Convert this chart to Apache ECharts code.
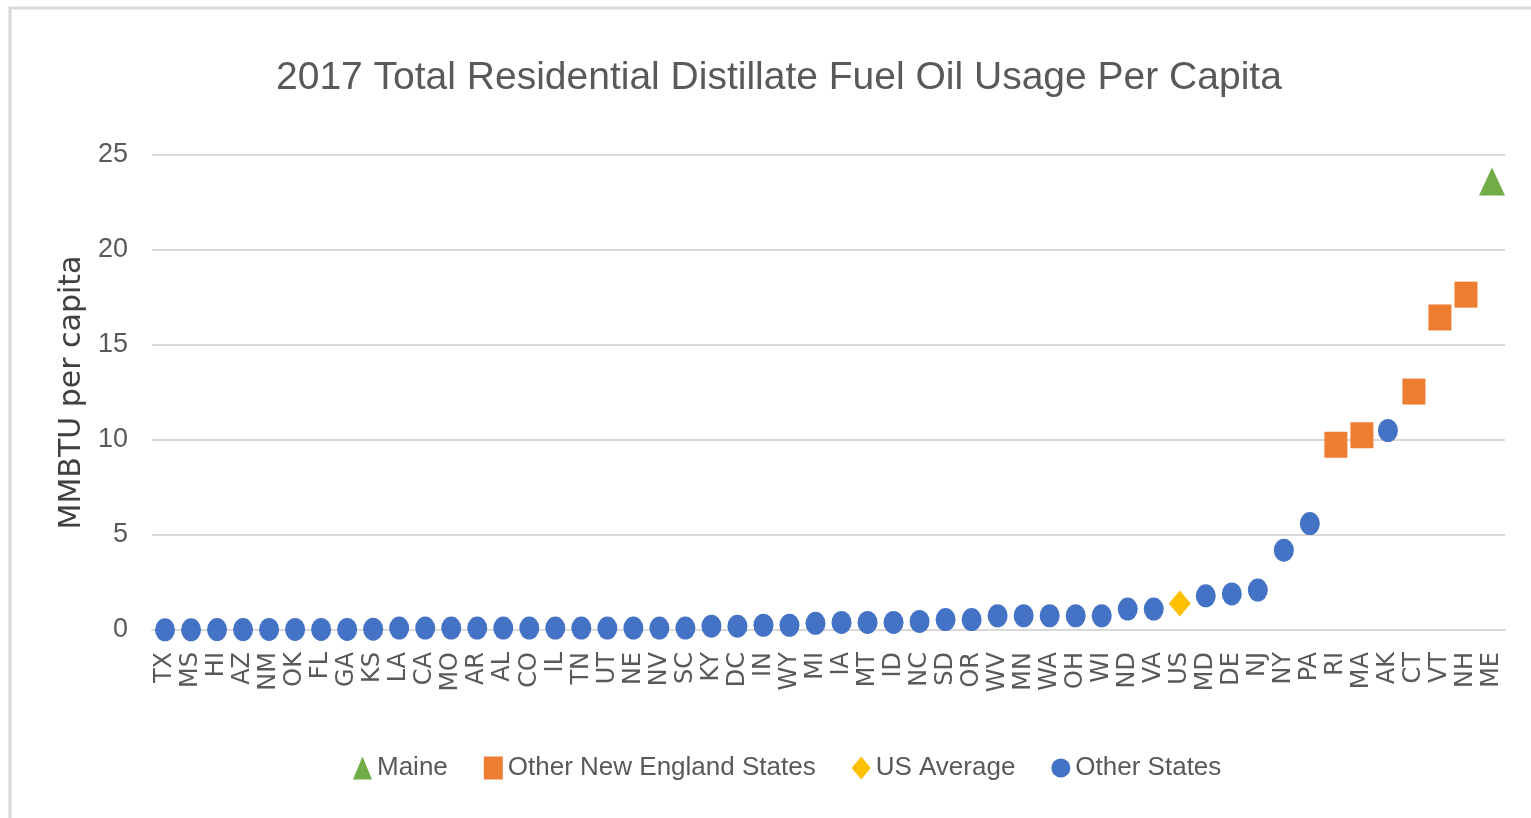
<!DOCTYPE html>
<html>
<head>
    <meta charset="utf-8">
    <title>2017 Total Residential Distillate Fuel Oil Usage Per Capita</title>
    <script src="https://cdn.jsdelivr.net/npm/echarts@6/dist/echarts.min.js"></script>
    <style>
        html, body { margin: 0; padding: 0; background: #fff; }
        #main { width: 1531px; height: 818px; }
    </style>
</head>
<body>
    <div id="main"></div>
    <script type="text/javascript">
// states, sorted by usage (MMBTU per capita)
var states = ['TX','MS','HI','AZ','NM','OK','FL','GA','KS','LA','CA','MO','AR','AL','CO','IL','TN','UT',
    'NE','NV','SC','KY','DC','IN','WY','MI','IA','MT','ID','NC','SD','OR','WV','MN','WA','OH','WI',
    'ND','VA','US','MD','DE','NJ','NY','PA','RI','MA','AK','CT','VT','NH','ME'];
var usage = [0.01,0.01,0.02,0.02,0.03,0.03,0.03,0.03,0.04,0.1,0.1,0.1,0.1,0.1,0.1,0.1,0.1,0.1,
    0.1,0.1,0.1,0.2,0.2,0.25,0.25,0.35,0.4,0.4,0.4,0.45,0.55,0.55,0.75,0.75,0.75,0.75,0.75,
    1.1,1.1,1.4,1.8,1.9,2.1,4.2,5.6,9.75,10.25,10.5,12.55,16.45,17.65,23.6];
var maine = ['ME'];
var otherNewEngland = ['RI','MA','CT','VT','NH'];
var usAverage = ['US'];
var yTicks = [0, 5, 10, 15, 20, 25];

function groupOf(s) {
    if (maine.indexOf(s) >= 0) return 'Maine';
    if (otherNewEngland.indexOf(s) >= 0) return 'Other New England States';
    if (usAverage.indexOf(s) >= 0) return 'US Average';
    return 'Other States';
}
function pick(name) {
    return states.map(function (s, i) { return groupOf(s) === name ? usage[i] : '-'; });
}

var myChart = echarts.init(document.getElementById('main'));
var sans = '"Liberation Sans", Arial, sans-serif';

option = {
    backgroundColor: '#ffffff',
    animation: false,
    graphic: [{
        type: 'rect',
        shape: { x: 10, y: 8, width: 1600, height: 900 },
        style: { fill: 'none', stroke: '#d9d9d9', lineWidth: 3 }
    }],
    title: {
        text: '2017 Total Residential Distillate Fuel Oil Usage Per Capita',
        left: 271,
        top: 54,
        textStyle: { fontFamily: sans, fontWeight: 'normal', fontSize: 39, color: '#595959' }
    },
    legend: {
        bottom: 32,
        left: 348,
        itemWidth: 19,
        itemHeight: 23,
        itemGap: 36,
        textStyle: { fontFamily: sans, fontSize: 26, color: '#595959' },
        data: ['Maine', 'Other New England States', 'US Average', 'Other States']
    },
    grid: { left: 152, right: 26, top: 155, bottom: 188 },
    xAxis: {
        type: 'category',
        data: states,
        axisTick: { show: false },
        axisLine: { lineStyle: { color: '#d9d9d9', width: 2 } },
        axisLabel: {
            rotate: 90, interval: 0, margin: 22,
            fontFamily: 'DejaVu Sans', fontSize: 24, color: '#595959'
        }
    },
    yAxis: {
        type: 'value',
        min: yTicks[0],
        max: yTicks[yTicks.length - 1],
        interval: 5,
        name: 'MMBTU per capita',
        nameLocation: 'middle',
        nameGap: 64,
        nameTextStyle: { fontFamily: 'DejaVu Sans', fontSize: 30, color: '#404040' },
        axisLine: { show: false },
        axisTick: { show: false },
        axisLabel: { margin: 24, fontFamily: sans, fontSize: 27, color: '#595959' },
        splitLine: { lineStyle: { color: '#d9d9d9', width: 2 } }
    },
    series: [
        { name: 'Other States', type: 'scatter', symbol: 'circle', symbolSize: [20, 23],
          itemStyle: { color: '#4472c4', opacity: 1 }, data: pick('Other States') },
        { name: 'US Average', type: 'scatter', symbol: 'diamond', symbolSize: [22, 26],
          itemStyle: { color: '#ffc000', opacity: 1 }, data: pick('US Average') },
        { name: 'Other New England States', type: 'scatter', symbol: 'rect', symbolSize: [23, 26],
          itemStyle: { color: '#ed7d31', opacity: 1 }, data: pick('Other New England States') },
        { name: 'Maine', type: 'scatter', symbol: 'triangle', symbolSize: [26, 28],
          itemStyle: { color: '#70ad47', opacity: 1 }, data: pick('Maine') }
    ]
};

myChart.setOption(option);
    </script>
</body>
</html>
